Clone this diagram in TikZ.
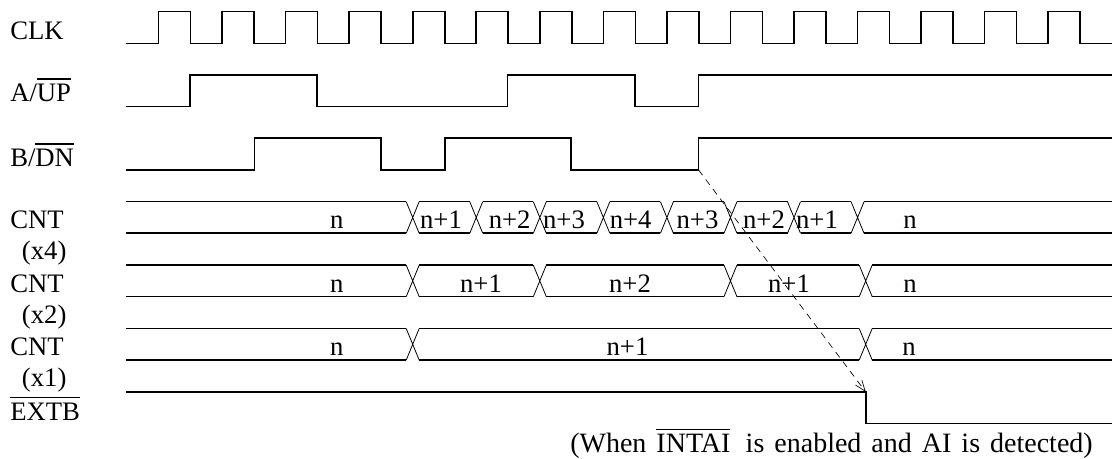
\documentclass[tikz,border=0pt]{standalone}
\usepackage{fontspec}
\setmainfont{Liberation Serif}
\usetikzlibrary{arrows.meta}
\newcommand\obar[1]{\leavevmode\vbox{\hrule height 0.9pt\kern 3.5pt\hbox{#1}}}
\begin{document}
\begin{tikzpicture}[x=0.75pt,y=-0.75pt,
  sig/.style={line width=1.2pt, line join=miter},
  xl/.style={line width=0.6pt},
  lbl/.style={anchor=base west, inner sep=0pt, font=\fontsize{20}{24}\selectfont},
  val/.style={anchor=base, inner sep=0pt, font=\fontsize{20}{24}\selectfont},
  dashedarrow/.style={line width=0.5pt, dash pattern=on 5pt off 4pt, -{Straight Barb[length=8pt,width=6pt]}}]
\useasboundingbox (0,0) rectangle (1114,459);

% labels
\node[lbl] (lclk) at (10,39.3) {CLK};
\node[lbl] (la) at (10,101.7) {A/\obar{UP}};
\node[lbl] (lb) at (10,166.7) {B/\obar{DN}};
\node[lbl] (lc4) at (10,229) {CNT};
\node[lbl] (lx4) at (21.7,260) {(x4)};
\node[lbl] (lc2) at (10,292.3) {CNT};
\node[lbl] (lx2) at (21.7,323.3) {(x2)};
\node[lbl] (lc1) at (10,355.6) {CNT};
\node[lbl] (lx1) at (21.7,386.6) {(x1)};
\node[lbl] (lext) at (10,420.5) {\obar{EXTB}};

% CLK
\draw[sig] (126,43.4) \foreach \k in {0,...,14} {
  -- ({158.5+63.55*\k},43.4) -- ({158.5+63.55*\k},11.5)
  -- ({190.5+63.55*\k},11.5) -- ({190.5+63.55*\k},43.4) } -- (1112,43.4);

% A/UP
\draw[sig] (126,106.5) -- (190,106.5) -- (190,74.9) -- (317,74.9) -- (317,106.5)
  -- (507.5,106.5) -- (507.5,74.9) -- (635,74.9) -- (635,106.5)
  -- (698.5,106.5) -- (698.5,74.9) -- (1112,74.9);

% B/DN
\draw[sig] (126,169.9) -- (254.5,169.9) -- (254.5,138.3) -- (381,138.3) -- (381,169.9)
  -- (445,169.9) -- (445,138.3) -- (571,138.3) -- (571,169.9)
  -- (698.5,169.9) -- (698.5,138.3) -- (1112,138.3);
\coordinate (brise) at (698.5,169.9);

% bus helper
\newcommand\drawbus[3]{%
  \foreach \c [remember=\c as \p (initially 119.5)] in {#3,1118.5} {
    \draw[sig] (\p+6.5,#1) -- (\c-6.5,#1) (\p+6.5,#2) -- (\c-6.5,#2);
  }
  \foreach \c in {#3} {
    \draw[xl] (\c-6.5,#1) -- (\c+6.5,#2) (\c-6.5,#2) -- (\c+6.5,#1);
  }
}

% CNT x4
\drawbus{201.7}{233.3}{412.7,476.25,539.8,603.35,666.9,730.45,794,857.55}
\node[val] (v4a) at (336.7,229) {n};
\node[val] (v4b) at (441,229) {n+1};
\node[val] (v4c) at (509.6,229) {n+2};
\node[val] (v4d) at (564,229) {n+3};
\node[val] (v4e) at (630.7,229) {n+4};
\node[val] (v4f) at (697.5,229) {n+3};
\node[val] (v4g) at (764,229) {n+2};
\node[val] (v4h) at (817,229) {n+1};
\node[val] (v4i) at (910,229) {n};

% CNT x2
\drawbus{265.1}{296.7}{412.7,539.8,730.45,865.7}
\node[val] (v2a) at (336.7,292.4) {n};
\node[val] (v2b) at (481,292.4) {n+1};
\node[val] (v2c) at (630,292.4) {n+2};
\node[val] (v2d) at (789,292.4) {n+1};
\node[val] (v2e) at (910,292.4) {n};

% CNT x1
\drawbus{328.5}{360.1}{412.7,865.7}
\node[val] (v1a) at (336.7,355.8) {n};
\node[val] (v1b) at (627.5,355.8) {n+1};
\node[val] (v1c) at (909,355.8) {n};

% EXTB
\draw[sig] (126,391.9) -- (865.7,391.9) -- (865.7,423.5) -- (1112,423.5);
\coordinate (efall) at (865.7,391.9);

\draw[dashedarrow] (brise) -- (efall);

\node[anchor=base east, inner sep=0pt, font=\fontsize{21}{25}\selectfont] (cap) at (1093,453)
  {\spaceskip=7.5pt\relax (When \obar{INTAI}\hspace{4pt} is enabled and AI is detected)};
\end{tikzpicture}
\end{document}
